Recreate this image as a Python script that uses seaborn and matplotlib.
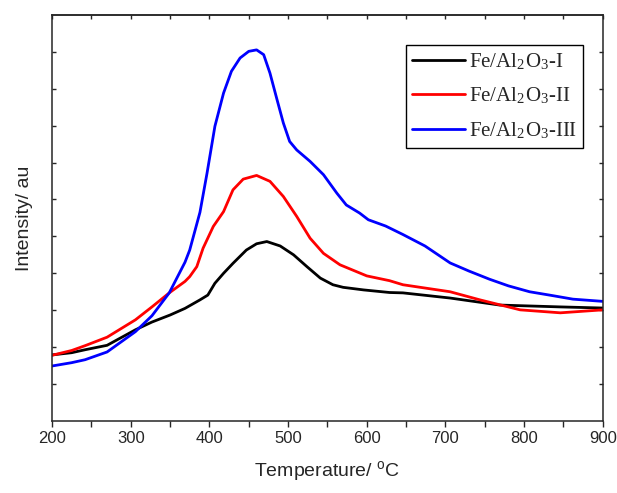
import pandas as pd
import matplotlib
matplotlib.use("Agg")
import matplotlib.pyplot as plt
import seaborn as sns

# Leituras do gráfico (temperatura em °C, intensidade em u.a.)
temp_i = [200, 225, 242, 270, 306, 327, 350, 369, 388, 398, 407, 418, 430, 447, 460, 473,
          490, 507, 524, 541, 557, 570, 596, 629, 646, 706, 769, 846, 900]
int_i = [1.79, 1.85, 1.93, 2.05, 2.47, 2.68, 2.87, 3.05, 3.28, 3.41, 3.73, 4.00, 4.27, 4.63,
         4.80, 4.86, 4.74, 4.50, 4.18, 3.87, 3.69, 3.62, 3.55, 3.48, 3.47, 3.33, 3.14,
         3.09, 3.06]

temp_ii = [200, 225, 242, 270, 306, 327, 349, 369, 375, 384, 392, 405, 418, 430, 443, 460,
           477, 494, 511, 528, 545, 566, 600, 629, 646, 706, 744, 795, 846, 900]
int_ii = [1.78, 1.91, 2.04, 2.27, 2.74, 3.09, 3.47, 3.78, 3.91, 4.18, 4.68, 5.27, 5.67, 6.26,
          6.55, 6.65, 6.49, 6.08, 5.54, 4.95, 4.54, 4.23, 3.93, 3.80, 3.69, 3.50, 3.28,
          3.01, 2.93, 3.01]

temp_iii = [200, 225, 242, 270, 306, 327, 349, 369, 375, 388, 397, 407, 418, 428, 439, 450,
            460, 469, 477, 486, 494, 502, 511, 528, 545, 562, 574, 591, 602, 624, 646,
            674, 706, 730, 756, 780, 807, 835, 862, 900]
int_iii = [1.49, 1.58, 1.66, 1.87, 2.42, 2.85, 3.47, 4.30, 4.63, 5.65, 6.71, 7.98, 8.88, 9.47,
           9.83, 10.01, 10.05, 9.92, 9.42, 8.70, 8.07, 7.57, 7.34, 7.03, 6.67, 6.17, 5.85,
           5.63, 5.45, 5.28, 5.05, 4.74, 4.28, 4.06, 3.84, 3.66, 3.50, 3.40, 3.30, 3.24]

amostras = [r'Fe/Al$_\mathregular{2}$O$_\mathregular{3}$-I',
            r'Fe/Al$_\mathregular{2}$O$_\mathregular{3}$-II',
            r'Fe/Al$_\mathregular{2}$O$_\mathregular{3}$-III']
cores = ['black', 'red', 'blue']

df = pd.concat([
    pd.DataFrame({'T': temp_i, 'I': int_i, 'Amostra': amostras[0]}),
    pd.DataFrame({'T': temp_ii, 'I': int_ii, 'Amostra': amostras[1]}),
    pd.DataFrame({'T': temp_iii, 'I': int_iii, 'Amostra': amostras[2]}),
], ignore_index=True)

sns.set_style("ticks")
plt.rcParams['font.family'] = ['Liberation Sans', 'DejaVu Sans']
plt.rcParams['axes.linewidth'] = 1.1
plt.rcParams['mathtext.fontset'] = 'stix'

fig = plt.figure(figsize=(6.17, 4.93), dpi=100)
ax = fig.add_axes([0.0843, 0.146, 0.8927, 0.824])

sns.lineplot(data=df, x='T', y='I', hue='Amostra', palette=cores, estimator=None,
             sort=False, linewidth=2.0, ax=ax)

ax.set_xlim(200, 900)
ax.set_ylim(0, 11)
ax.set_xticks(range(200, 901, 100))
ax.set_xticks(range(250, 900, 100), minor=True)
ax.set_yticks(range(1, 11))
ax.set_yticklabels([])
ax.tick_params(axis='x', which='both', direction='out', length=4, width=1, labelsize=12)
ax.tick_params(axis='y', which='both', direction='in', length=3, width=1, right=True)

topo = ax.secondary_xaxis('top')
topo.set_xticks(range(200, 901, 50))
topo.tick_params(direction='in', length=3, width=1)
topo.set_xticklabels([])

ax.set_xlabel(r'Temperature/ $\mathregular{^o}$C', fontsize=14, labelpad=9)
ax.set_ylabel('Intensity/ au', fontsize=14, labelpad=10)

leg = ax.legend(loc='upper right', bbox_to_anchor=(0.964, 0.926), fancybox=False,
                edgecolor='black', framealpha=1, borderaxespad=0, handlelength=2.5,
                prop={'family': 'Liberation Serif', 'size': 15}, labelspacing=0.68,
                handletextpad=0.2, borderpad=0.3)
leg.get_frame().set_linewidth(1.0)

fig.savefig('out.png', dpi=100)
